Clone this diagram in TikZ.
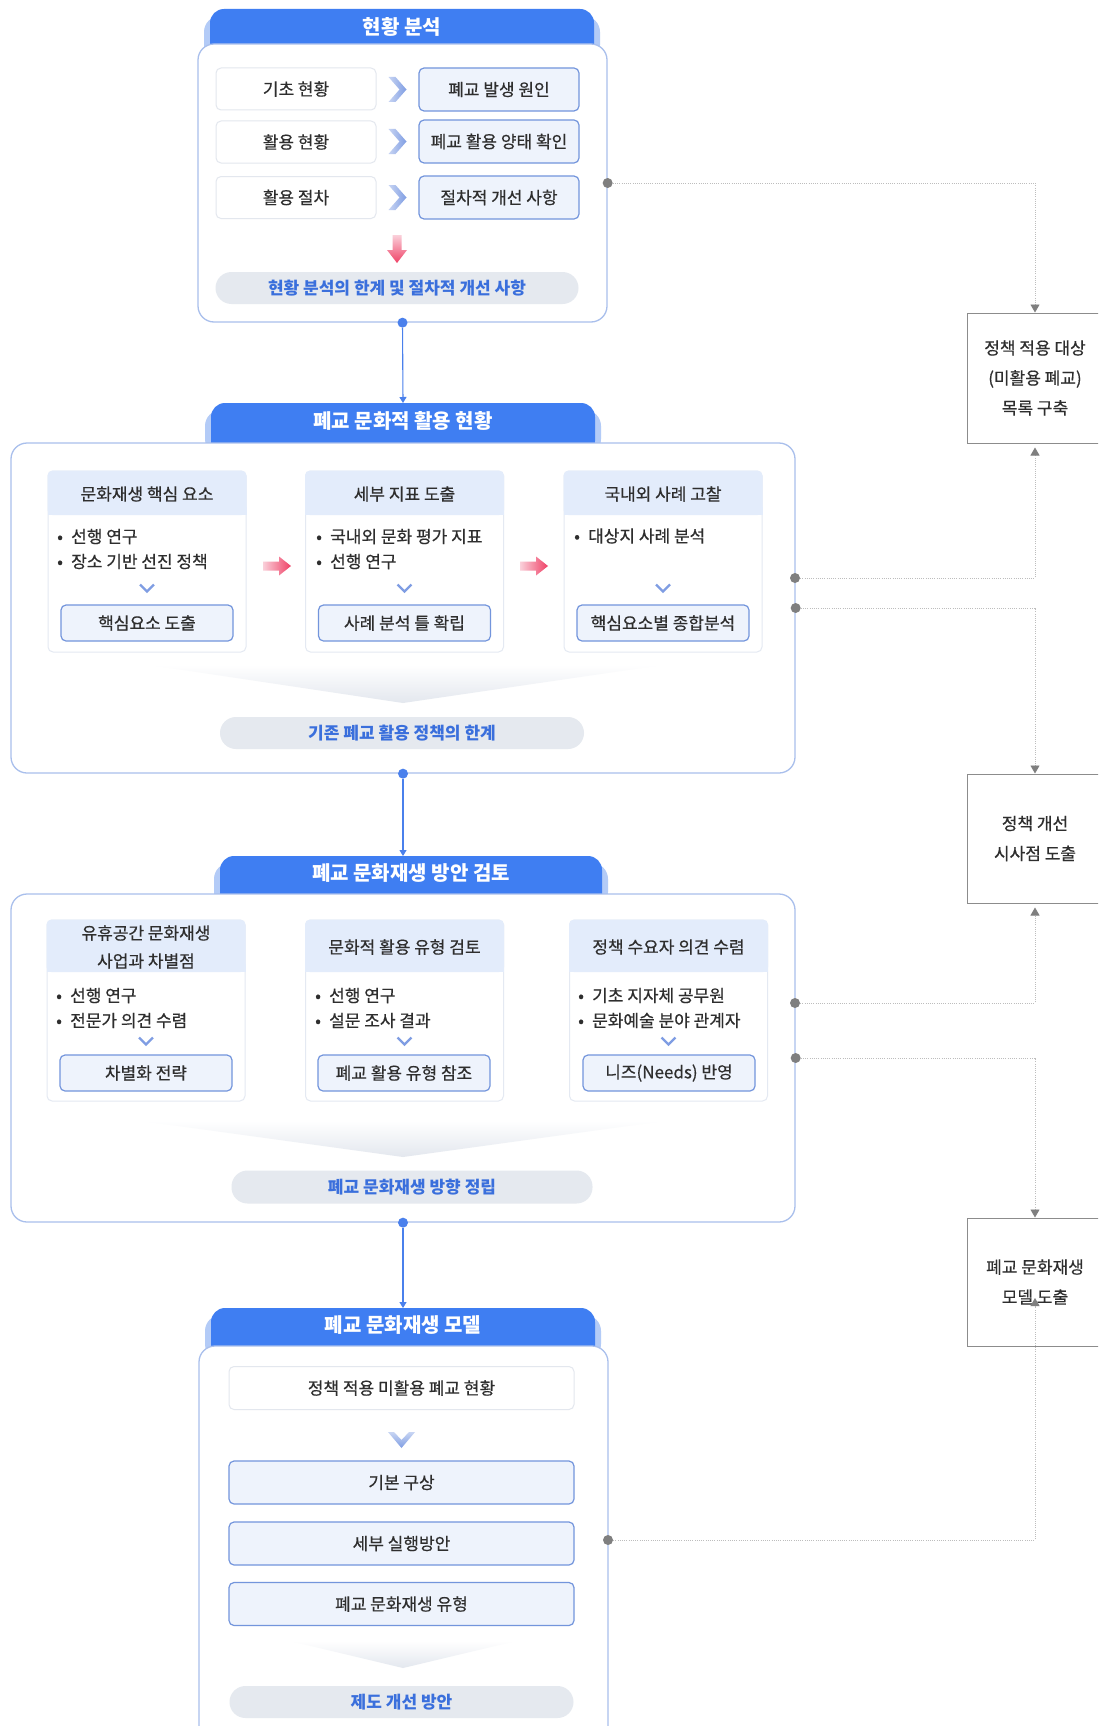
\documentclass[tikz,border=0pt]{standalone}
\usepackage{fontspec}
\setmainfont{Noto Sans CJK KR}[UprightFeatures={FakeBold=0.5}]
\usetikzlibrary{arrows.meta}
\definecolor{tabblue}{HTML}{3F7EF2}
\definecolor{tabshadow}{HTML}{B3CBF7}
\definecolor{boxborder}{HTML}{A9BFEC}
\definecolor{headc}{HTML}{E3ECFB}
\definecolor{panelb}{HTML}{E4E9F2}
\definecolor{innerf}{HTML}{EEF3FC}
\definecolor{innerb}{HTML}{7395DC}
\definecolor{pillf}{HTML}{E5E9EF}
\definecolor{pillt}{HTML}{3A6FDC}
\definecolor{txt}{HTML}{2E2E2E}
\definecolor{chevc}{HTML}{7F9DE3}
\definecolor{chevl}{HTML}{C8D5F3}
\definecolor{redc}{HTML}{EF4166}
\definecolor{redl}{HTML}{FAD0DA}
\definecolor{dotgray}{HTML}{7F7F7F}
\definecolor{linegray}{HTML}{BDBDBD}
\definecolor{sideb}{HTML}{8C8C8C}
\definecolor{conblue}{HTML}{4A80EC}
\definecolor{funnelc}{HTML}{E3E7EE}
\definecolor{lboxb}{HTML}{E3E7EE}
\newcommand{\myBody}{\fontsize{17}{24}\selectfont}
\newcommand{\myTitle}{\fontsize{20}{24}\selectfont\bfseries}
\newcommand{\bul}{\makebox[14pt][l]{•}}
\newcommand{\mktab}[5]{%
  \fill[tabshadow, rounded corners=16pt] ({#2-6},{#4+7}) rectangle ({#3+6},{#4+52});
  \fill[tabblue, rounded corners=14pt] (#2,#4) rectangle (#3,{#4+52});
  \coordinate (#1n) at ({(#2+#3)/2},#4);
  \node[tabtxt] (#1) at ({(#2+#3)/2},{#4+17.5}) {#5};
}
\newcommand{\mkpanel}[5]{%
  \node[panel, minimum height={#4-#3}] (#1) at (#2,{(#3+#4)/2}) {};
  \fill[headc, rounded corners=5pt] (#1.north west) rectangle (#1.east |- 0,#5);
  \fill[headc] (#1.west |- 0,{#5-8}) rectangle (#1.east |- 0,#5);
}
\begin{document}
\begin{tikzpicture}[x=1pt,y=-1pt,
  every node/.style={text=txt, font=\myBody},
  tabtxt/.style={text=white, font=\myTitle},
  outerbox/.style={draw=boxborder, line width=1.3pt, fill=white, rounded corners=16pt, inner sep=0pt},
  lbox/.style={draw=lboxb, line width=1pt, fill=white, rounded corners=5pt, minimum width=160pt, minimum height=42pt, inner sep=0pt},
  rbox/.style={draw=innerb, line width=1.2pt, fill=innerf, rounded corners=5pt, minimum width=160pt, minimum height=43pt, inner sep=0pt},
  panel/.style={draw=panelb, line width=1pt, fill=white, minimum width=198pt, rounded corners=5pt, inner sep=0pt},
  htxt/.style={align=center, font=\fontsize{17}{28}\selectfont, inner sep=0pt},
  btxt/.style={align=left, anchor=west, font=\fontsize{17}{25}\selectfont, inner sep=0pt},
  ibox/.style={draw=innerb, line width=1.2pt, fill=innerf, rounded corners=5pt, minimum width=172pt, minimum height=36pt, inner sep=0pt},
  pill/.style={fill=pillf, rounded corners=16pt, text=pillt, font=\fontsize{17}{20}\selectfont\bfseries, inner sep=0pt},
  sidebox/.style={draw=sideb, line width=1pt, fill=white, minimum width=136pt, align=center, font=\fontsize{17}{30}\selectfont, inner sep=0pt},
  gdot/.style={circle, fill=dotgray, inner sep=0pt, minimum size=10pt},
  bdot/.style={circle, fill=conblue, inner sep=0pt, minimum size=10pt},
  gconn/.style={draw=linegray, line width=0.9pt, dash pattern=on 1pt off 1.2pt, -{Triangle[width=9pt,length=8pt,color=dotgray]}},
  bconn/.style={draw=conblue, line width=1.1pt, -{Triangle[width=7pt,length=6pt]}},
  rchev/.pic={\shade[left color=chevl, right color=chevc] (-9,-12.5) -- (-2,-12.5) -- (9,0) -- (-2,12.5) -- (-9,12.5) -- (2,0) -- cycle;},
  vsmall/.pic={\draw[chevc, line width=2.4pt] (-7,-3.5) -- (0,3.5) -- (7,-3.5);},
  vbig/.pic={\shade[top color=chevl, bottom color=chevc] (-13.5,-8) -- (-7.5,-8) -- (0,0) -- (7.5,-8) -- (13.5,-8) -- (0,8) -- cycle;},
  redr/.pic={\shade[left color=redl, right color=redc] (-14,-4.5) -- (2,-4.5) -- (2,-9.5) -- (14,0) -- (2,9.5) -- (2,4.5) -- (-14,4.5) -- cycle;},
  redd/.pic={\shade[top color=redl, bottom color=redc] (-4.5,-14) -- (4.5,-14) -- (4.5,1) -- (10,1) -- (0,14) -- (-10,1) -- (-4.5,1) -- cycle;}
]
\useasboundingbox (0,0) rectangle (1098,1726);
\clip (0,0) rectangle (1098,1726);
\fill[white] (0,0) rectangle (1098,1726);

% ---------- Box 1 ----------
\mktab{t1}{210}{594}{9}{현황 분석}
\node[outerbox, minimum width=409pt, minimum height=278pt] (b1) at (402.5,183) {};
\node[lbox] (l1) at (296,89) {기초 현황};
\node[lbox] (l2) at (296,142) {활용 현황};
\node[lbox] (l3) at (296,197.5) {활용 절차};
\node[rbox] (r1) at (499,89.5) {폐교 발생 원인};
\node[rbox] (r2) at (499,141.5) {폐교 활용 양태 확인};
\node[rbox] (r3) at (499,197.5) {절차적 개선 사항};
\pic at (397.5,89.5) {rchev};
\pic at (397.5,141.5) {rchev};
\pic at (397.5,197.5) {rchev};
\pic at (397,249) {redd};
\node[pill, minimum width=363pt, minimum height=32pt] (p1) at (397,288) {현황 분석의 한계 및 절차적 개선 사항};
\node[gdot] (d1) at (b1.east) {};
\node[bdot] (bd1) at (b1.south) {};

% ---------- Box 2 ----------
\mktab{t2}{211}{595}{403}{폐교 문화적 활용 현황}
\node[outerbox, minimum width=784pt, minimum height=330pt] (b2) at (403,608) {};
\mkpanel{P1}{147}{471}{652}{515}
\mkpanel{P2}{404.5}{471}{652}{515}
\mkpanel{P3}{663}{471}{652}{515}
\node[htxt] (P1h) at (147,494) {문화재생 핵심 요소};
\node[htxt] (P2h) at (404.5,494) {세부 지표 도출};
\node[htxt] (P3h) at (663,494) {국내외 사례 고찰};
\node[btxt] (P1b) at (57,549) {\bul 선행 연구\\\bul 장소 기반 선진 정책};
\node[btxt] (P2b) at (316,549) {\bul 국내외 문화 평가 지표\\\bul 선행 연구};
\node[btxt] (P3b) at (574,536) {\bul 대상지 사례 분석};
\pic at (147,588) {vsmall};
\pic at (404.5,588) {vsmall};
\pic at (663,588) {vsmall};
\node[ibox] (P1i) at (147,623) {핵심요소 도출};
\node[ibox] (P2i) at (404.5,623) {사례 분석 틀 확립};
\node[ibox] (P3i) at (663,623) {핵심요소별 종합분석};
\pic at (277,566) {redr};
\pic at (534,566) {redr};
\shade[top color=white, bottom color=funnelc] (150,665) -- (662,665) -- (403,703) -- cycle;
\node[pill, minimum width=364pt, minimum height=32pt] (p2) at (402,733) {기존 폐교 활용 정책의 한계};
\node[gdot] (d2a) at (795,578) {};
\node[gdot] (d2b) at (b2.east) {};
\node[bdot] (bd2) at (b2.south) {};
\draw[bconn] (bd1) -- (t2n);

% ---------- Box 3 ----------
\mktab{t3}{220}{602}{856}{폐교 문화재생 방안 검토}
\node[outerbox, minimum width=784pt, minimum height=328pt] (b3) at (403,1058) {};
\mkpanel{Q1}{146}{920}{1101}{972}
\mkpanel{Q2}{404.5}{920}{1101}{972}
\mkpanel{Q3}{668.5}{920}{1101}{972}
\node[htxt] (Q1h) at (146,947) {유휴공간 문화재생\\사업과 차별점};
\node[htxt] (Q2h) at (404.5,947) {문화적 활용 유형 검토};
\node[htxt] (Q3h) at (668.5,947) {정책 수요자 의견 수렴};
\node[btxt] (Q1b) at (56,1008) {\bul 선행 연구\\\bul 전문가 의견 수렴};
\node[btxt] (Q2b) at (315,1008) {\bul 선행 연구\\\bul 설문 조사 결과};
\node[btxt] (Q3b) at (578,1008) {\bul 기초 지자체 공무원\\\bul 문화예술 분야 관계자};
\pic at (146,1041) {vsmall};
\pic at (404.5,1041) {vsmall};
\pic at (668.5,1041) {vsmall};
\node[ibox] (Q1i) at (146,1073) {차별화 전략};
\node[ibox] (Q2i) at (404,1073) {폐교 활용 유형 참조};
\node[ibox] (Q3i) at (669,1073) {니즈(Needs) 반영};
\shade[top color=white, bottom color=funnelc] (142,1121) -- (664,1121) -- (403,1157) -- cycle;
\node[pill, minimum width=361pt, minimum height=33pt] (p3) at (412,1187) {폐교 문화재생 방향 정립};
\node[gdot] (d3a) at (795,1003) {};
\node[gdot] (d3b) at (b3.east) {};
\node[bdot] (bd3) at (b3.south) {};
\draw[bconn] (bd2) -- (bd2 |- t3n);

% ---------- Box 4 ----------
\mktab{t4}{211}{595}{1308}{폐교 문화재생 모델}
\node[outerbox, minimum width=409pt, minimum height=400pt] (b4) at (403.5,1546) {};
\node[lbox, minimum width=345pt, minimum height=43pt] (s0) at (401.5,1388) {정책 적용 미활용 폐교 현황};
\pic at (401.5,1440) {vbig};
\node[rbox, minimum width=345pt] (s1) at (401.5,1482.5) {기본 구상};
\node[rbox, minimum width=345pt] (s2) at (401.5,1543.5) {세부 실행방안};
\node[rbox, minimum width=345pt] (s3) at (401.5,1604) {폐교 문화재생 유형};
\shade[top color=white, bottom color=funnelc] (290,1641) -- (516,1641) -- (403,1668) -- cycle;
\node[pill, minimum width=344pt, minimum height=32pt] (p4) at (401.5,1702) {제도 개선 방안};
\node[gdot] (d4) at (608,1540) {};
\draw[bconn] (bd3) -- (t4n);

% ---------- Side boxes ----------
\node[sidebox, minimum height=130pt] (A) at (1035,378) {정책 적용 대상\\(미활용 폐교)\\목록 구축};
\node[sidebox, minimum height=129pt] (B) at (1035,838.5) {정책 개선\\시사점 도출};
\node[sidebox, minimum height=128pt] (C) at (1035,1282) {폐교 문화재생\\모델 도출};
\coordinate (Cin) at (1035,1298);

\draw[gconn] (d1) -| (A.north);
\draw[gconn, shorten >=4pt] (d2a) -| (A.south);
\draw[gconn] (d2b) -| (B.north);
\draw[gconn, shorten >=4pt] (d3a) -| (B.south);
\draw[gconn] (d3b) -| (C.north);
\draw[gconn] (d4) -| (Cin);
\end{tikzpicture}
\end{document}
